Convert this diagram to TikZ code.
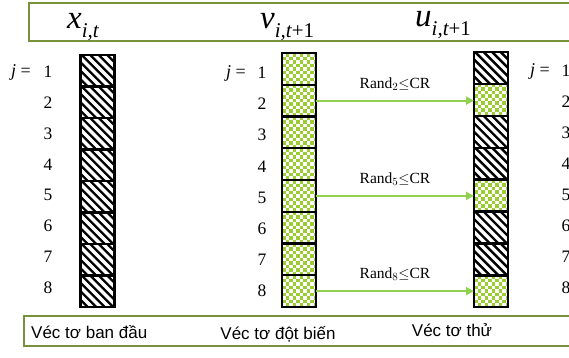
\documentclass[tikz,border=0pt]{standalone}
\usepackage{fontspec}
\setmainfont{Liberation Serif}
\newfontfamily\arialfont{Liberation Sans}
\usetikzlibrary{arrows.meta,calc}
\definecolor{frame}{RGB}{118,146,60}
\definecolor{leaf}{RGB}{154,205,50}
\definecolor{arrowgreen}{RGB}{146,208,80}

\tikzset{
  cell/.style={draw=black, line width=2.4pt, minimum width=34pt,
    inner sep=0pt, outer sep=0pt},
  hatchcell/.style={cell, path picture={
    \foreach \k in {-5,...,5}
      \draw[line width=2.4pt]
        ($(path picture bounding box.center)+(\k*8.5pt-25pt,25pt)$) -- ++(50pt,-50pt);}},
  checkcell/.style={cell, path picture={
    \fill[leaf] (path picture bounding box.south west) rectangle (path picture bounding box.north east);
    \foreach \i in {0,...,10}{\foreach \j in {0,...,10}{
      \pgfmathtruncatemacro\pty{mod(\i+\j,2)}
      \ifnum\pty=0
        \fill[white] ($(path picture bounding box.north west)+(\i*3.5pt,-\j*3.5pt)$) rectangle ++(3.5pt,-3.5pt);
      \fi}}}},
  idx/.style={font=\fontsize{17.5}{18}\selectfont, inner sep=0pt},
  jeq/.style={font=\fontsize{18}{18}\selectfont, inner sep=0pt, anchor=east},
  cross/.style={arrowgreen, line width=2pt, -{Triangle[length=8pt,width=8pt]}},
  randlbl/.style={black, font=\fontsize{15.5}{17}\selectfont, midway, above=6pt},
  head/.style={anchor=base west, inner sep=0pt, font=\fontsize{33}{33}\selectfont\itshape},
  foot/.style={inner sep=0pt, font=\arialfont\fontsize{17}{18}\selectfont},
}
\newcommand{\subsc}[1]{\raisebox{-9pt}{\fontsize{21}{21}\selectfont #1}}

\begin{document}
\begin{tikzpicture}[x=1pt, y=-1pt]
\useasboundingbox (0,0) rectangle (569,357);
\clip (0,0) rectangle (569,357);

% header and footer frames
\draw[frame, line width=2pt] (29,3) rectangle (600,41);
\draw[frame, line width=1.5pt] (24,316) rectangle (600,346);

\node[head] (hx) at (67,28) {x\subsc{i,t}};
\node[head] (hv) at (260,28) {v\subsc{i,t{\upshape +1}}};
\node[head] (hu) at (415,26) {u\subsc{i,t{\upshape +1}}};

% original vector
\foreach \k in {1,...,8}
  \node[hatchcell, minimum height=31.5pt] (a\k) at (97.5,{55+31.5*(\k-0.5)}) {};
% mutant vector
\foreach \k in {1,...,8}
  \node[checkcell, minimum height=31.75pt] (b\k) at (299,{53+31.75*(\k-0.5)}) {};
% trial vector
\node[hatchcell, minimum height=31.9pt] (c1) at (491,{52+31.9*0.5}) {};
\node[checkcell, minimum height=31.9pt] (c2) at (491,{52+31.9*1.5}) {};
\node[hatchcell, minimum height=31.9pt] (c3) at (491,{52+31.9*2.5}) {};
\node[hatchcell, minimum height=31.9pt] (c4) at (491,{52+31.9*3.5}) {};
\node[checkcell, minimum height=31.9pt] (c5) at (491,{52+31.9*4.5}) {};
\node[hatchcell, minimum height=31.9pt] (c6) at (491,{52+31.9*5.5}) {};
\node[hatchcell, minimum height=31.9pt] (c7) at (491,{52+31.9*6.5}) {};
\node[checkcell, minimum height=31.9pt] (c8) at (491,{52+31.9*7.5}) {};

% index labels
\foreach \k in {1,...,8} {
  \node[idx] (na\k) at (48,{72+30.8*(\k-1)}) {\k};
  \node[idx] (nb\k) at (262,{73+31.1*(\k-1)}) {\k};
  \node[idx] (nc\k) at (566,{71+31.0*(\k-1)}) {\k};
}
\node[jeq] (ja) at (31,72) {\textit{j} =};
\node[jeq] (jb) at (246,73) {\textit{j} =};
\node[jeq] (jc) at (550,71) {\textit{j} =};

% crossover
\draw[cross] (b2.east) -- (b2.east -| c2.west) node[randlbl] {Rand$_2$$\le$CR};
\draw[cross] (b5.east) -- (b5.east -| c5.west) node[randlbl] {Rand$_5$$\le$CR};
\draw[cross] (b8.east) -- (b8.east -| c8.west) node[randlbl] {Rand$_8$$\le$CR};

% captions
\node[foot, anchor=west] (fa) at (31,332) {Véc tơ ban đầu};
\node[foot] (fb) at (278,334) {Véc tơ đột biến};
\node[foot] (fc) at (452,330) {Véc tơ thử};
\end{tikzpicture}
\end{document}
